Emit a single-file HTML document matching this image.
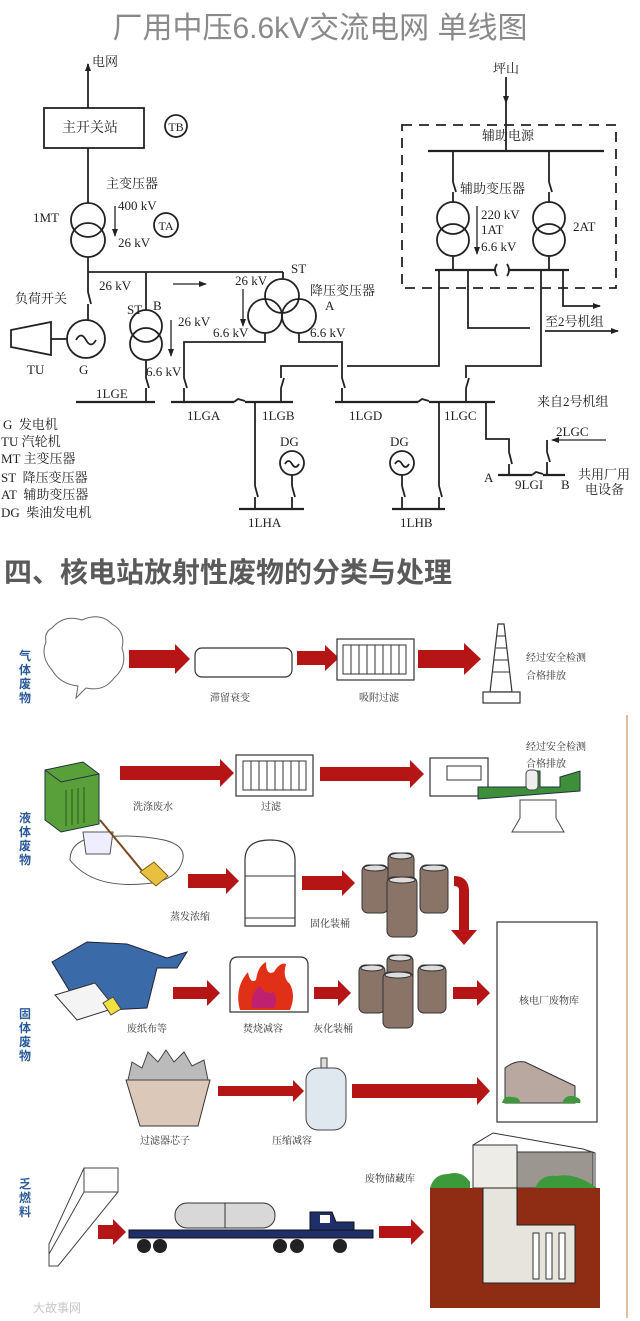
<!DOCTYPE html>
<html><head><meta charset="utf-8"><style>
html,body{margin:0;padding:0;background:#fff;}
svg{display:block;}
.s{font-family:"Liberation Serif","Noto Serif CJK SC",serif;fill:#222;}
.t{font-family:"Liberation Sans","Noto Sans CJK SC",sans-serif;}
.sm{font-family:"Liberation Serif","Noto Serif CJK SC",serif;fill:#333;font-size:10px;}
.bl{font-family:"Liberation Sans","Noto Sans CJK SC",sans-serif;fill:#2a5a9a;font-size:12px;font-weight:bold;}
</style></head><body>
<svg width="640" height="1321" viewBox="0 0 640 1321" xmlns="http://www.w3.org/2000/svg">
<defs>
<marker id="ah" markerWidth="8" markerHeight="8" refX="7" refY="4" orient="auto" markerUnits="userSpaceOnUse"><path d="M0,1 L8,4 L0,7 z" fill="#222"/></marker>
</defs>
<rect width="640" height="1321" fill="#fff"/>
<!-- Title -->
<text x="320" y="38" text-anchor="middle" class="t" font-size="30" fill="#8a8a8a">厂用中压6.6kV交流电网 单线图</text>

<g stroke="#222" stroke-width="1.8" fill="none">
<!-- main line -->
<line x1="88" y1="108" x2="88" y2="64" marker-end="url(#ah)"/>
<rect x="44" y="108" width="100" height="40"/>
<circle cx="176" cy="126" r="11"/>
<line x1="88" y1="148" x2="88" y2="203"/>
<circle cx="88" cy="220" r="17"/><circle cx="88" cy="240" r="17"/>
<line x1="115" y1="206" x2="115" y2="236" marker-end="url(#ah)" stroke-width="1.3"/>
<circle cx="166" cy="225" r="12"/>
<line x1="88" y1="257" x2="88" y2="292"/>
<line x1="88" y1="292" x2="91" y2="304"/>
<line x1="88" y1="304" x2="88" y2="320"/>
<line x1="88" y1="272" x2="283" y2="272"/>
<line x1="283" y1="272" x2="283" y2="279"/>
<circle cx="86" cy="339" r="19"/>
<path d="M76,340 q5,-9 10,0 t10,0"/>
<line x1="51" y1="339" x2="67" y2="339"/>
<path d="M11,330 L51,322 L51,355 L11,347 z"/>
<!-- ST B -->
<line x1="146" y1="272" x2="146" y2="310"/>
<circle cx="146" cy="326" r="16"/><circle cx="146" cy="344" r="16"/>
<line x1="171" y1="320" x2="171" y2="356" marker-end="url(#ah)" stroke-width="1.3"/>
<line x1="146" y1="360" x2="146" y2="378"/><line x1="146" y1="378" x2="149" y2="388"/><line x1="146" y1="388" x2="146" y2="402"/>
<line x1="76" y1="402" x2="155" y2="402" stroke-width="2.2"/>
<line x1="173" y1="284" x2="206" y2="284" marker-end="url(#ah)" stroke-width="1.3"/>
<!-- ST 3 winding -->
<circle cx="282" cy="296" r="17"/><circle cx="265" cy="316" r="17"/><circle cx="299" cy="316" r="17"/>
<line x1="243" y1="289" x2="243" y2="326" marker-end="url(#ah)" stroke-width="1.3"/>
<path d="M265,333 V342 H184 V378"/><line x1="184" y1="378" x2="187" y2="388"/><line x1="184" y1="388" x2="184" y2="402"/>
<path d="M299,333 V342 H342 V378"/><line x1="342" y1="378" x2="345" y2="388"/><line x1="342" y1="388" x2="342" y2="402"/>
<!-- buses -->
<line x1="171" y1="402" x2="234" y2="402" stroke-width="2.2"/>
<path d="M234,402 l4,-3 l7,2" /><line x1="245" y1="402" x2="293" y2="402" stroke-width="2.2"/>
<line x1="335" y1="402" x2="418" y2="402" stroke-width="2.2"/>
<path d="M418,402 l4,-3 l7,2"/><line x1="429" y1="402" x2="495" y2="402" stroke-width="2.2"/>
<!-- 1LGB feed -->
<path d="M281,402 V388"/><line x1="281" y1="388" x2="284" y2="378"/><path d="M281,378 V366 H338"/><path d="M347,366 H439 V270"/>
<!-- 1LGC feed -->
<path d="M466,402 V388"/><line x1="466" y1="388" x2="469" y2="378"/><path d="M466,378 V366 H541 V270"/>
<!-- aux -->
<line x1="435" y1="270" x2="496" y2="270" stroke-width="2.2"/>
<path d="M497,264 q-4,6 0,12 M507,264 q4,6 0,12"/>
<line x1="508" y1="270" x2="569" y2="270" stroke-width="2.2"/>
<path d="M468,270 V328 H530"/>
<path d="M563,270 V306 H600" marker-end="url(#ah)"/>
<line x1="545" y1="331" x2="618" y2="331" marker-end="url(#ah)"/>
<rect x="402" y="125" width="214" height="163" stroke-dasharray="10,7"/>
<line x1="506" y1="77" x2="506" y2="103" marker-end="url(#ah)"/>
<line x1="506" y1="103" x2="506" y2="151"/>
<line x1="428" y1="151" x2="604" y2="151" stroke-width="2.2"/>
<path d="M453,151 V182"/><line x1="453" y1="182" x2="456" y2="192"/><path d="M453,192 V202"/>
<circle cx="453" cy="218" r="16"/><circle cx="453" cy="240" r="16"/><path d="M453,256 V270"/>
<path d="M549,151 V182"/><line x1="549" y1="182" x2="552" y2="192"/><path d="M549,192 V202"/>
<circle cx="549" cy="218" r="16"/><circle cx="549" cy="240" r="16"/><path d="M549,256 V270"/>
<line x1="477" y1="206" x2="477" y2="254" marker-end="url(#ah)" stroke-width="1.3"/>
<!-- 9LGI -->
<path d="M486,402 V439 H509 V452"/><line x1="509" y1="452" x2="512" y2="464"/><path d="M509,464 V475"/>
<line x1="498" y1="475" x2="532" y2="475" stroke-width="2.2"/><path d="M532,475 l4,-3 l7,2"/><line x1="543" y1="475" x2="565" y2="475" stroke-width="2.2"/>
<line x1="606" y1="440" x2="552" y2="440" marker-end="url(#ah)" stroke-width="1.3"/>
<path d="M547,440 V452"/><line x1="547" y1="452" x2="550" y2="462"/><path d="M547,462 V475"/>
<!-- 1LHA -->
<path d="M255,402 V486"/><line x1="255" y1="486" x2="258" y2="497"/><path d="M255,497 V509"/>
<circle cx="292" cy="463" r="12"/><path d="M285,464 q3.5,-6 7,0 t7,0"/>
<path d="M292,475 V486"/><line x1="292" y1="486" x2="295" y2="497"/><path d="M292,497 V509"/>
<line x1="239" y1="509" x2="304" y2="509" stroke-width="2.2"/>
<!-- 1LHB -->
<path d="M439,402 V486"/><line x1="439" y1="486" x2="442" y2="497"/><path d="M439,497 V509"/>
<circle cx="402" cy="463" r="12"/><path d="M395,464 q3.5,-6 7,0 t7,0"/>
<path d="M402,475 V486"/><line x1="402" y1="486" x2="405" y2="497"/><path d="M402,497 V509"/>
<line x1="392" y1="509" x2="445" y2="509" stroke-width="2.2"/>
</g>
<g class="s" font-size="13">
<text x="92" y="66">电网</text>
<text x="90" y="132" text-anchor="middle" font-size="14">主开关站</text>
<text x="176" y="131" text-anchor="middle" font-size="12">TB</text>
<text x="106" y="188">主变压器</text>
<text x="33" y="222">1MT</text>
<text x="118" y="210">400 kV</text>
<text x="166" y="230" text-anchor="middle" font-size="12">TA</text>
<text x="118" y="247">26 kV</text>
<text x="99" y="290">26 kV</text>
<text x="15" y="303">负荷开关</text>
<text x="127" y="314">ST</text><text x="153" y="310">B</text>
<text x="178" y="326">26 kV</text>
<text x="146" y="376">6.6 kV</text>
<text x="27" y="374">TU</text><text x="79" y="374">G</text>
<text x="96" y="398">1LGE</text>
<text x="235" y="285">26 kV</text>
<text x="291" y="273">ST</text>
<text x="310" y="295">降压变压器</text>
<text x="325" y="310">A</text>
<text x="213" y="337">6.6 kV</text>
<text x="310" y="337">6.6 kV</text>
<text x="187" y="420">1LGA</text><text x="262" y="420">1LGB</text>
<text x="349" y="420">1LGD</text><text x="444" y="420">1LGC</text>
<text x="280" y="446">DG</text><text x="390" y="446">DG</text>
<text x="248" y="527">1LHA</text><text x="400" y="527">1LHB</text>
<text x="493" y="73">坪山</text>
<text x="508" y="140" text-anchor="middle">辅助电源</text>
<text x="460" y="193">辅助变压器</text>
<text x="481" y="219">220 kV</text>
<text x="481" y="234">1AT</text>
<text x="481" y="251">6.6 kV</text>
<text x="573" y="231">2AT</text>
<text x="545" y="326">至2号机组</text>
<text x="537" y="406">来自2号机组</text>
<text x="556" y="436">2LGC</text>
<text x="484" y="482">A</text><text x="515" y="489">9LGI</text><text x="561" y="489">B</text>
<text x="578" y="479">共用厂用</text><text x="585" y="494">电设备</text>
<text x="3" y="429">G&#160;&#160;发电机</text>
<text x="1" y="446">TU 汽轮机</text>
<text x="1" y="463">MT 主变压器</text>
<text x="1" y="482">ST&#160;&#160;降压变压器</text>
<text x="1" y="499">AT&#160;&#160;辅助变压器</text>
<text x="1" y="517">DG&#160;&#160;柴油发电机</text>
</g>

<!-- Section 2 title -->
<text x="4" y="582" class="t" font-size="28" font-weight="bold" fill="#5a5a5a">四、核电站放射性废物的分类与处理</text>
<line x1="627" y1="715" x2="627" y2="1318" stroke="#d9a878" stroke-width="1.5"/>

<!-- gas row -->
<g class="bl"><text x="19" y="660">气</text><text x="19" y="674">体</text><text x="19" y="688">废</text><text x="19" y="702">物</text></g>
<path d="M52,628 q12,-14 30,-8 q18,-8 30,4 q14,8 10,24 q6,18 -8,30 q-10,14 -28,10 l-10,10 l2,-12 q-18,-2 -26,-16 q-12,-14 -6,-28 q-2,-10 6,-14z" fill="#fff" stroke="#666" stroke-width="1"/>
<g fill="#b51515">
<path d="M129,650 h46 v-6 l15,15 l-15,15 v-6 h-46z"/>
<path d="M297,651 h28 v-6 l14,13 l-14,13 v-6 h-28z"/>
<path d="M418,650 h46 v-7 l17,16 l-17,16 v-7 h-46z"/>
</g>
<rect x="195" y="648" width="97" height="29" rx="7" fill="#fff" stroke="#333" stroke-width="1.2"/>
<rect x="337" y="639" width="77" height="41" fill="#fff" stroke="#333" stroke-width="1.2"/>
<rect x="343" y="645" width="63" height="29" fill="none" stroke="#333"/>
<g stroke="#333"><line x1="351" y1="645" x2="351" y2="674"/><line x1="359" y1="645" x2="359" y2="674"/><line x1="367" y1="645" x2="367" y2="674"/><line x1="375" y1="645" x2="375" y2="674"/><line x1="383" y1="645" x2="383" y2="674"/><line x1="391" y1="645" x2="391" y2="674"/><line x1="399" y1="645" x2="399" y2="674"/></g>
<path d="M498,624 h6 l8,68 h-22z" fill="#fff" stroke="#333" stroke-width="1.2"/>
<rect x="483" y="692" width="37" height="11" fill="#fff" stroke="#333" stroke-width="1.2"/>
<g stroke="#333"><line x1="497" y1="636" x2="505" y2="636"/><line x1="496" y1="648" x2="507" y2="648"/><line x1="494" y1="660" x2="508" y2="660"/><line x1="493" y1="672" x2="510" y2="672"/></g>
<text x="230" y="701" class="sm" text-anchor="middle">滞留衰变</text>
<text x="379" y="701" class="sm" text-anchor="middle">吸附过滤</text>
<text x="526" y="661" class="sm">经过安全检测</text><text x="526" y="679" class="sm">合格排放</text>

<!-- liquid row -->
<g class="bl"><text x="19" y="822">液</text><text x="19" y="836">体</text><text x="19" y="850">废</text><text x="19" y="864">物</text></g>
<path d="M45,770 l38,-8 l16,12 l0,50 l-38,8 l-16,-12z" fill="#5aa03a" stroke="#234" stroke-width="1"/>
<path d="M45,770 l16,12 l38,-8" fill="none" stroke="#234"/>
<g stroke="#2c5a1c"><line x1="66" y1="790" x2="66" y2="826"/><line x1="72" y1="789" x2="72" y2="825"/><line x1="78" y1="788" x2="78" y2="824"/><line x1="84" y1="787" x2="84" y2="823"/></g>
<path d="M70,860 q0,-14 14,-20 q40,-8 80,0 q24,6 18,22 q-6,20 -40,22 q-50,4 -72,-24z" fill="#fff" stroke="#555"/>
<path d="M83,832 h30 l-3,22 h-24z" fill="#eef" stroke="#555"/>
<line x1="100" y1="820" x2="148" y2="878" stroke="#7a4a20" stroke-width="2"/>
<path d="M140,872 l14,-10 l14,14 l-12,10z" fill="#e8c040" stroke="#7a6010"/>
<g fill="#b51515">
<path d="M120,766 h100 v-7 l14,14 l-14,14 v-7 h-100z"/>
<path d="M320,767 h90 v-7 l14,14 l-14,14 v-7 h-90z"/>
<path d="M188,874 h38 v-6 l13,13 l-13,13 v-6 h-38z"/>
<path d="M302,876 h40 v-6 l13,13 l-13,13 v-6 h-40z"/>
<path d="M454,876 q14,0 15,14 v40 h8 l-13,15 l-13,-15 h8 v-40 q0,-4 -5,-4z"/>
<path d="M453,987 h24 v-7 l13,13 l-13,13 v-7 h-24z"/>
<path d="M173,987 h34 v-7 l13,13 l-13,13 v-7 h-34z"/>
<path d="M314,987 h24 v-7 l13,13 l-13,13 v-7 h-24z"/>
<path d="M218,1086 h75 v-6 l11,11 l-11,11 v-6 h-75z"/>
<path d="M352,1084 h125 v-7 l13,14 l-13,14 v-7 h-125z"/>
<path d="M98,1225 h15 v-6 l13,13 l-13,13 v-6 h-15z"/>
<path d="M379,1226 h32 v-7 l13,13 l-13,13 v-7 h-32z"/>
</g>
<rect x="236" y="755" width="77" height="41" fill="#fff" stroke="#333" stroke-width="1.2"/>
<rect x="243" y="761" width="63" height="29" fill="none" stroke="#333"/>
<g stroke="#333"><line x1="251" y1="761" x2="251" y2="790"/><line x1="259" y1="761" x2="259" y2="790"/><line x1="267" y1="761" x2="267" y2="790"/><line x1="275" y1="761" x2="275" y2="790"/><line x1="283" y1="761" x2="283" y2="790"/><line x1="291" y1="761" x2="291" y2="790"/><line x1="299" y1="761" x2="299" y2="790"/></g>
<text x="153" y="810" class="sm" text-anchor="middle">洗涤废水</text>
<text x="271" y="810" class="sm" text-anchor="middle">过滤</text>
<rect x="430" y="758" width="58" height="38" fill="#fff" stroke="#333" stroke-width="1.2"/>
<path d="M447,766 h34 v14 h-34z" fill="none" stroke="#333"/>
<path d="M478,787 l50,0 l0,-16 l12,0 l0,16 l20,0 l0,-10 l20,-6 l0,20 l-102,8z" fill="#3e8f3a" stroke="#234"/>
<rect x="526" y="770" width="12" height="20" rx="4" fill="#eee" stroke="#444"/>
<path d="M520,800 h36 v18 l8,14 h-52 l8,-14z" fill="#fff" stroke="#444"/>
<text x="526" y="750" class="sm">经过安全检测</text><text x="526" y="767" class="sm">合格排放</text>
<path d="M245,926 V860 q0,-20 25,-20 q25,0 25,20 V926z" fill="#fff" stroke="#333" stroke-width="1.2"/>
<line x1="245" y1="876" x2="295" y2="876" stroke="#333"/>
<line x1="245" y1="918" x2="295" y2="918" stroke="#333"/>
<text x="190" y="920" class="sm" text-anchor="middle">蒸发浓缩</text>
<text x="330" y="927" class="sm" text-anchor="middle">固化装桶</text>
<!-- barrels group 1 -->
<g fill="#8a7468" stroke="#333" stroke-width="1">
<rect x="388" y="853" width="26" height="40" rx="6"/><rect x="362" y="865" width="26" height="48" rx="6"/><rect x="420" y="865" width="28" height="48" rx="6"/><rect x="387" y="877" width="30" height="60" rx="6"/>
</g>
<g fill="#ddd" stroke="#333"><ellipse cx="401" cy="856" rx="11" ry="3"/><ellipse cx="375" cy="868" rx="11" ry="3"/><ellipse cx="434" cy="868" rx="12" ry="3"/><ellipse cx="402" cy="880" rx="13" ry="3"/></g>
<!-- storage box -->
<rect x="497" y="922" width="100" height="200" fill="#fff" stroke="#333" stroke-width="1.2"/>
<text x="549" y="1004" class="sm" text-anchor="middle">核电厂废物库</text>
<path d="M505,1103 v-35 q10,-8 20,-6 l50,24 v17z" fill="#b8a8a0" stroke="#333"/>
<path d="M502,1103 q2,-8 10,-6 q8,0 8,6z M562,1103 q4,-10 14,-6 q6,2 4,6z" fill="#3c9a3a"/>

<!-- solid -->
<g class="bl"><text x="19" y="1018">固</text><text x="19" y="1032">体</text><text x="19" y="1046">废</text><text x="19" y="1060">物</text></g>
<path d="M52,962 l35,-20 l40,2 l40,14 l20,-6 l-10,16 l-20,0 l-10,40 l-40,2 l-10,-10 l-25,-5 z" fill="#3a6aa8" stroke="#223"/>
<path d="M55,995 l40,-12 l20,25 l-38,12z" fill="#f4f4f4" stroke="#333"/>
<path d="M103,1003 l10,-6 l8,12 l-10,6z" fill="#f0e040" stroke="#444"/>
<text x="147" y="1032" class="sm" text-anchor="middle">废纸布等</text>
<path d="M230,1012 V965 q0,-8 8,-8 h62 q8,0 8,8 V1012z" fill="#fff" stroke="#333" stroke-width="1.2"/>
<path d="M240,1010 q-6,-22 8,-38 q2,12 8,8 q2,-14 10,-18 q0,14 8,10 q6,-10 12,-8 q-4,14 4,20 q6,12 0,26z" fill="#e03018"/>
<path d="M252,1008 q-2,-14 8,-22 q6,10 14,6 q4,10 0,16z" fill="#c02070"/>
<text x="263" y="1032" class="sm" text-anchor="middle">焚烧减容</text>
<text x="333" y="1032" class="sm" text-anchor="middle">灰化装桶</text>
<g fill="#8a7468" stroke="#333" stroke-width="1">
<rect x="387" y="955" width="26" height="40" rx="6"/><rect x="359" y="965" width="26" height="48" rx="6"/><rect x="418" y="965" width="28" height="48" rx="6"/><rect x="383" y="972" width="30" height="56" rx="6"/>
</g>
<g fill="#ddd" stroke="#333"><ellipse cx="400" cy="958" rx="11" ry="3"/><ellipse cx="372" cy="968" rx="11" ry="3"/><ellipse cx="432" cy="968" rx="12" ry="3"/><ellipse cx="398" cy="975" rx="13" ry="3"/></g>
<path d="M126,1080 l84,0 l-12,46 l-58,0z" fill="#dcc8b8" stroke="#333"/>
<path d="M128,1080 l4,-18 l10,6 l6,-16 l10,10 l8,-12 l8,12 l10,-10 l8,14 l12,-6 l4,20z" fill="#bbb" stroke="#444"/>
<text x="165" y="1144" class="sm" text-anchor="middle">过滤器芯子</text>
<rect x="321" y="1058" width="6" height="10" fill="#ddd" stroke="#444"/>
<rect x="306" y="1068" width="40" height="62" rx="12" fill="#dfe8ef" stroke="#444"/>
<text x="292" y="1144" class="sm" text-anchor="middle">压缩减容</text>

<!-- spent fuel -->
<g class="bl"><text x="19" y="1188">乏</text><text x="19" y="1202">燃</text><text x="19" y="1216">料</text></g>
<path d="M84,1168 h34 v24 l-60,74 h-9 v-22z" fill="#fff" stroke="#444"/>
<line x1="84" y1="1168" x2="84" y2="1192" stroke="#444"/><line x1="84" y1="1192" x2="118" y2="1192" stroke="#444"/><line x1="84" y1="1192" x2="49" y2="1254" stroke="#444"/>
<rect x="175" y="1203" width="100" height="25" rx="12" fill="#d8d8d8" stroke="#333"/>
<line x1="225" y1="1203" x2="225" y2="1228" stroke="#333"/>
<rect x="129" y="1230" width="244" height="8" fill="#1e2f6a" stroke="#111"/>
<path d="M310,1230 v-18 h22 l4,10 h18 v8z" fill="#1e2f6a" stroke="#111"/>
<rect x="320" y="1215" width="10" height="8" fill="#fff"/>
<g fill="#222"><circle cx="144" cy="1246" r="7"/><circle cx="160" cy="1246" r="7"/><circle cx="280" cy="1246" r="7"/><circle cx="297" cy="1246" r="7"/><circle cx="340" cy="1246" r="7"/></g>
<text x="390" y="1182" class="sm" text-anchor="middle">废物储藏库</text>
<path d="M473,1145 l20,-12 l90,16 l12,4 v35 h-122z" fill="#fff" stroke="#333"/>
<rect x="517" y="1152" width="76" height="36" fill="#9c9690" stroke="#333"/>
<rect x="473" y="1145" width="44" height="43" fill="#eeece6" stroke="#333"/>
<path d="M430,1188 q4,-14 18,-14 q14,-4 22,8 v6z M535,1188 q6,-14 22,-12 q18,-4 40,12z" fill="#3c9a3a"/>
<rect x="430" y="1188" width="170" height="120" fill="#8e2c14"/>
<path d="M483,1188 h34 v37 h58 v58 h-92z" fill="#e6e4dc" stroke="#222"/>
<g fill="#fff" stroke="#333"><rect x="533" y="1233" width="6" height="46"/><rect x="546" y="1233" width="6" height="46"/><rect x="559" y="1233" width="6" height="46"/></g>
<text x="33" y="1312" class="t" font-size="12" fill="#c8c8c8">大故事网</text>
</svg>
</body></html>
